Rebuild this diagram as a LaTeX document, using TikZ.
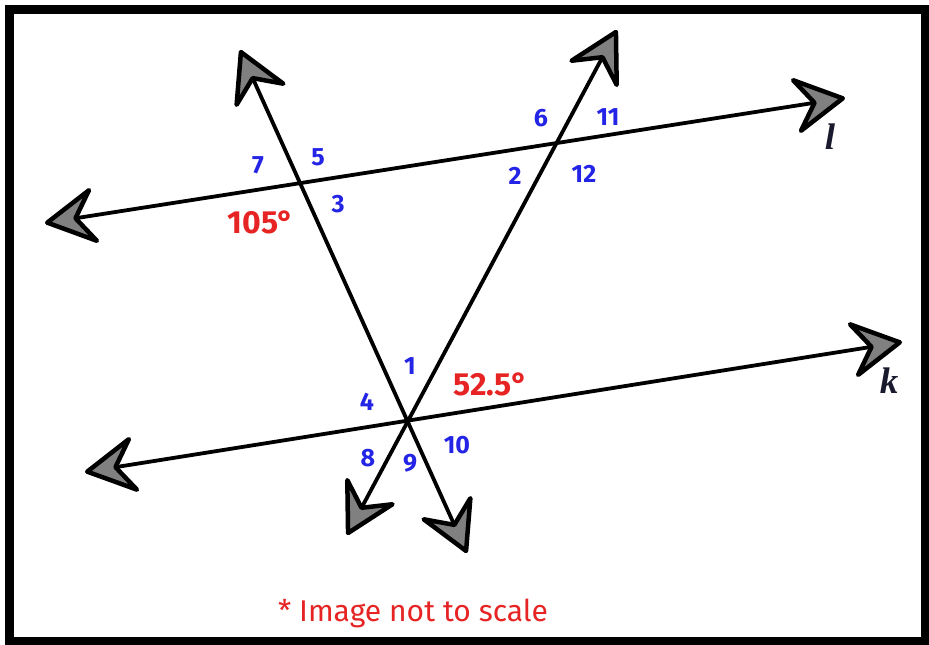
\documentclass[tikz,border=0pt]{standalone}
\usepackage{fontspec}
\setmainfont{Fira Sans}
\newfontfamily\letterfont{Liberation Serif}
\usetikzlibrary{arrows.meta}
\definecolor{numblue}{HTML}{2424E6}
\definecolor{angred}{HTML}{E62424}
\definecolor{labcol}{HTML}{1A1A2E}
\begin{document}
\begin{tikzpicture}[x=1pt,y=-1pt,
  >={Stealth[length=58pt,width=64pt,inset=22pt,fill=black!50,line width=4.5pt,round]},
  ln/.style={line width=3.8pt,<->},
  num/.style={text=numblue,font=\fontsize{25}{27}\selectfont\bfseries,inner sep=0pt},
  ang/.style={text=angred,font=\fontsize{32}{34}\selectfont\bfseries,inner sep=0pt},
  lab/.style={font=\fontsize{37}{40}\selectfont\letterfont\itshape\bfseries,text=labcol,inner sep=0pt}]
\useasboundingbox (0,0) rectangle (929,645);
\fill[white] (0,0) rectangle (929,645);
\draw[line width=8.5pt] (9.5,9.5) rectangle (925,641);
% end points
\coordinate (lA) at (45,223);
\coordinate (lB) at (845,98);
\coordinate (kA) at (85,472);
\coordinate (kB) at (902,342);
\coordinate (tA) at (240,50);
\coordinate (tB) at (467,553);
\coordinate (sA) at (617,30);
\coordinate (sB) at (347,535);
\draw[ln] (lA) -- (lB);
\draw[ln] (kA) -- (kB);
\draw[ln] (tA) -- (tB);
\draw[ln] (sA) -- (sB);
% labels
\node[num] (n7) at (258,165) {7};
\node[num] (n5) at (318,157) {5};
\node[num] (n3) at (338,204) {3};
\node[ang] (a105) at (261,222) {105°};
\node[num] (n6) at (541,118) {6};
\node[num] (n11) at (608,117) {11};
\node[num] (n2) at (515,176) {2};
\node[num] (n12) at (584,174) {12};
\node[num] (n1) at (410,366) {1};
\node[num] (n4) at (367,402) {4};
\node[ang] (a52) at (491,384) {52.5°};
\node[num] (n8) at (368,458) {8};
\node[num] (n9) at (410,463) {9};
\node[num] (n10) at (457,445) {10};
\node[lab] (ll) at (830,137) {l};
\node[lab] (lk) at (889,381) {k};
\node[text=angred,font=\fontsize{30}{32}\selectfont,inner sep=0pt] (note) at (413,613) {* Image not to scale};
\end{tikzpicture}
\end{document}
